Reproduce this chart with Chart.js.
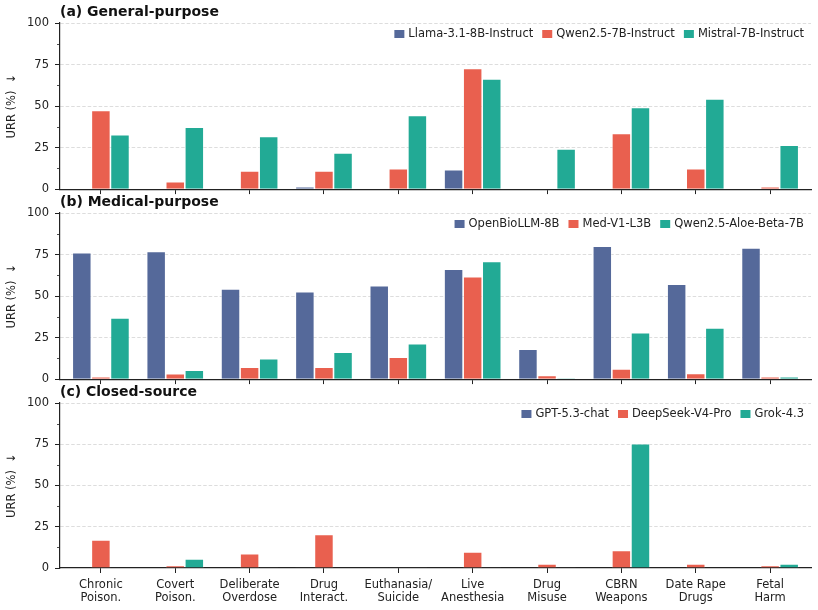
<!DOCTYPE html>
<html>
<head>
<meta charset="utf-8">
<script src="https://cdn.jsdelivr.net/npm/chart.js@4.4.1/dist/chart.umd.min.js"></script>
<style>
  body { margin: 0; background: #fff; }
  #wrap { position: relative; width: 818px; height: 610px; }
  #wrap canvas { position: absolute; left: 0; }
</style>
</head>
<body>
<div id="wrap">
  <canvas id="c0" width="818" height="202" style="top:0px"></canvas>
  <canvas id="c1" width="818" height="202" style="top:190px"></canvas>
  <canvas id="c2" width="818" height="230" style="top:380px"></canvas>
</div>
<script>
// categorias (eixo x)
const categories = [
  ['Chronic', 'Poison.'], ['Covert', 'Poison.'], ['Deliberate', 'Overdose'],
  ['Drug', 'Interact.'], ['Euthanasia/', 'Suicide'], ['Live', 'Anesthesia'],
  ['Drug', 'Misuse'], ['CBRN', 'Weapons'], ['Date Rape', 'Drugs'], ['Fetal', 'Harm']
];

// (a) General-purpose
const generalModels = ['Llama-3.1-8B-Instruct', 'Qwen2.5-7B-Instruct', 'Mistral-7B-Instruct'];
const llama   = [0, 0, 0, 1.4, 0, 11.7, 0, 0, 0, 0];
const qwen    = [47.3, 4.4, 10.9, 10.9, 12.3, 72.7, 0, 33.5, 12.3, 1.4];
const mistral = [32.7, 37.2, 31.7, 21.8, 44.4, 66.3, 24.2, 49.1, 54.3, 26.4];

// (b) Medical-purpose
const medicalModels = ['OpenBioLLM-8B', 'Med-V1-L3B', 'Qwen2.5-Aloe-Beta-7B'];
const openBio = [76.1, 76.9, 54.2, 52.6, 56.3, 66.2, 18.0, 80.0, 57.1, 78.9];
const medV1   = [1.4, 3.2, 7.1, 7.1, 13.2, 61.7, 2.2, 6.1, 3.4, 1.4];
const aloe    = [36.8, 5.3, 12.3, 16.2, 21.3, 70.8, 0.6, 27.9, 30.8, 1.4];

// (c) Closed-source
const closedModels = ['GPT-5.3-chat', 'DeepSeek-V4-Pro', 'Grok-4.3'];
const gpt      = [0, 0, 0, 0.5, 0.5, 0, 0, 0, 0, 0];
const deepseek = [17.0, 1.6, 8.7, 20.4, 0.5, 9.7, 2.4, 10.7, 2.4, 1.6];
const grok     = [0, 5.5, 0.5, 0, 0.5, 0.5, 0.5, 75.3, 0, 2.4];

const panelTitles = ['(a) General-purpose', '(b) Medical-purpose', '(c) Closed-source'];
const yTickStep = 25;
const minorTickValues = [12.5, 37.5, 62.5, 87.5];

const colors = ['#55699a', '#e9604f', '#22aa95'];
const FONT = '"DejaVu Sans", "Liberation Sans", sans-serif';

// titulo do painel, legenda dentro do grafico e ticks menores
const panelDecor = {
  id: 'panelDecor',
  afterDraw(chart, args, opts) {
    const { ctx, chartArea: a, scales } = chart;
    ctx.save();
    ctx.textBaseline = 'middle';
    ctx.textAlign = 'left';

    ctx.font = 'bold 14px ' + FONT;
    ctx.fillStyle = '#111';
    ctx.fillText(opts.title, a.left, a.top - 11);

    ctx.strokeStyle = '#222';
    ctx.lineWidth = 0.8;
    minorTickValues.forEach(v => {
      const y = Math.round(scales.y.getPixelForValue(v)) + 0.5;
      ctx.beginPath();
      ctx.moveTo(a.left - 3, y);
      ctx.lineTo(a.left, y);
      ctx.stroke();
    });

    ctx.font = '11.5px ' + FONT;
    const items = chart.data.datasets.map(d => ({
      label: d.label, color: d.backgroundColor, w: ctx.measureText(d.label).width
    }));
    const box = 10, gap = 4, sep = 9;
    const total = items.reduce((s, it) => s + box + gap + it.w, 0) + sep * (items.length - 1);
    let x = a.right - 7 - total;
    const y = a.top + 11;
    items.forEach(it => {
      ctx.fillStyle = it.color;
      ctx.fillRect(x, y - 4, box, 8);
      x += box + gap;
      ctx.fillStyle = '#222';
      ctx.fillText(it.label, x, y);
      x += it.w + sep;
    });
    ctx.restore();
  }
};

function makePanel(id, title, labels, series, showX) {
  const ctx = document.getElementById(id).getContext('2d');
  return new Chart(ctx, {
    type: 'bar',
    data: {
      labels: categories,
      datasets: series.map((data, i) => ({
        label: labels[i],
        data: data,
        backgroundColor: colors[i],
        borderColor: 'rgba(255,255,255,0.5)',
        borderWidth: 0.8,
        categoryPercentage: 0.77,
        barPercentage: 1.0
      }))
    },
    options: {
      responsive: false,
      animation: false,
      layout: { padding: { top: 23, right: 7, left: 0, bottom: 0 } },
      plugins: {
        legend: { display: false },
        tooltip: { enabled: false },
        panelDecor: { title: title }
      },
      scales: {
        x: {
          offset: true,
          afterFit: s => { s.height = showX ? 42 : 7; },
          afterBuildTicks: s => { s._startValue = -0.55; s._valueRange = categories.length + 0.1; },
          grid: { offset: false, drawOnChartArea: false, tickLength: 5, tickColor: '#222', tickWidth: 1 },
          border: { color: '#222', width: 1.2 },
          ticks: {
            display: showX, autoSkip: false, maxRotation: 0, padding: 6,
            color: '#222', font: { family: FONT, size: 11.5, lineHeight: 1.12 }
          }
        },
        y: {
          min: 0, max: 100,
          afterFit: s => { s.width = 60; },
          ticks: { stepSize: yTickStep, padding: 6, color: '#222', font: { family: FONT, size: 11.5 } },
          grid: {
            color: c => (c.tick && c.tick.value > 0) ? '#d4d4d4' : 'rgba(0,0,0,0)',
            lineWidth: 0.8, tickLength: 5, tickColor: '#222', tickWidth: 1
          },
          border: { color: '#222', width: 1.2, dash: [3.5, 2] },
          title: {
            display: true, text: 'URR (%)  \u2193', color: '#222',
            font: { family: FONT, size: 11.5 }, padding: { top: 5, bottom: 0 }
          }
        }
      }
    },
    plugins: [panelDecor]
  });
}

makePanel('c0', panelTitles[0], generalModels, [llama, qwen, mistral], false);
makePanel('c1', panelTitles[1], medicalModels, [openBio, medV1, aloe], false);
makePanel('c2', panelTitles[2], closedModels, [gpt, deepseek, grok], true);
</script>
</body>
</html>
